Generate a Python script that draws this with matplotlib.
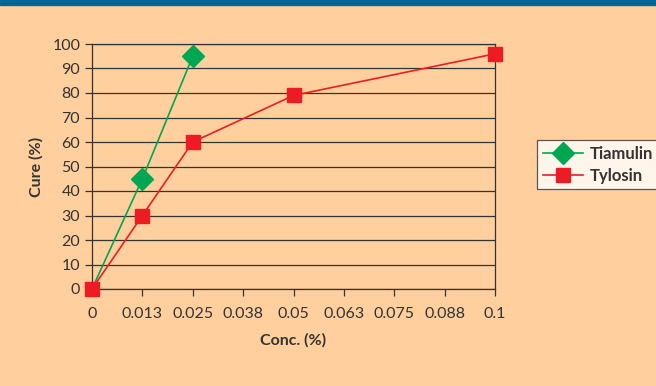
import matplotlib.pyplot as plt
import matplotlib.patches as patches

conc_tiamulin = [0, 0.0125, 0.025]
cure_tiamulin = [0, 45, 95]
conc_tylosin = [0, 0.0125, 0.025, 0.05, 0.1]
cure_tylosin = [0, 30, 60, 79, 96]
xticks = [0, 0.0125, 0.025, 0.0375, 0.05, 0.0625, 0.075, 0.0875, 0.1]
xlabels = ["0", "0.013", "0.025", "0.038", "0.05", "0.063", "0.075", "0.088", "0.1"]

bg = "#FFD09E"
plt.rcParams['font.family'] = ['Lato', 'DejaVu Sans']

fig = plt.figure(figsize=(6.56, 3.86), dpi=100, facecolor=bg)
ax = fig.add_axes([92/656, 1-289/386, 403/656, 245/386])
ax.set_facecolor(bg)

# blue band along the top edge
fig.patches.append(patches.Rectangle((0, 1-5/386), 1, 5/386, transform=fig.transFigure,
                                     color="#00669A", zorder=5))

# origin marker sits under the red square, so skip it
ax.plot(conc_tiamulin, cure_tiamulin, color="#00A651", lw=1.2, marker="D", ms=11.5,
        markevery=[1, 2], label="Tiamulin", clip_on=False, zorder=3)
ax.plot(conc_tylosin, cure_tylosin, color="#ED1C24", lw=1.2, marker="s", ms=9.5,
        label="Tylosin", clip_on=False, zorder=4)

ax.set_xlim(0, 0.1)
ax.set_ylim(0, 100)
ax.set_xticks(xticks)
ax.set_xticklabels(xlabels)
ax.set_yticks(range(0, 101, 10))
ax.yaxis.grid(True, color="#333333", lw=0.9)
ax.set_axisbelow(True)
for s in ax.spines.values():
    s.set_color("#333333")
    s.set_linewidth(0.9)
ax.tick_params(colors="#333333", labelsize=11.5, length=5, width=0.9)
ax.tick_params(axis="x", pad=8)
ax.set_xlabel("Conc. (%)", fontsize=11.5, fontweight="bold", color="#333333", labelpad=9)
ax.set_ylabel("Cure (%)", fontsize=11.5, fontweight="bold", color="#333333", labelpad=6)

leg = fig.legend(loc="upper left", bbox_to_anchor=(537/656, 1-140/386), frameon=True,
                 fancybox=False, edgecolor="#333333", facecolor="white", borderaxespad=0,
                 fontsize=12, handlelength=2.4, handletextpad=0.4, borderpad=0.35,
                 labelspacing=0.35)
leg.get_frame().set_linewidth(0.9)
for t in leg.get_texts():
    t.set_fontweight("bold")
    t.set_color("#333333")

fig.savefig("out.png", dpi=100, facecolor=bg)
